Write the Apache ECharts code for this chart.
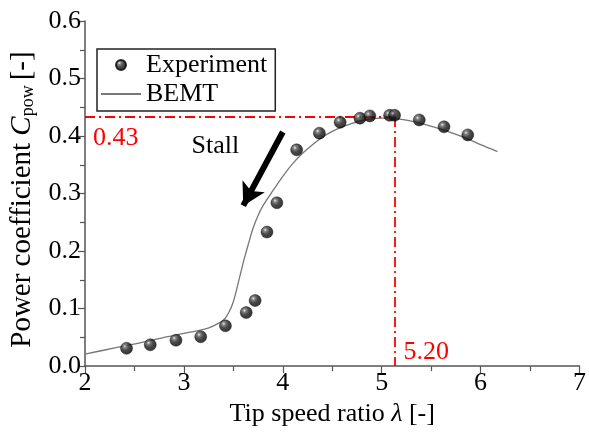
<!DOCTYPE html>
<html>
<head>
<meta charset="utf-8">
<script src="https://cdn.jsdelivr.net/npm/echarts@6/dist/echarts.min.js"></script>
<style>
  html, body { margin: 0; padding: 0; background: #fff; }
  #chart { width: 589px; height: 432px; }
</style>
</head>
<body>
<div id="chart"></div>
<script>
// measured points (tip speed ratio, Cpow)
var expX = [2.42, 2.66, 2.92, 3.17, 3.42, 3.63, 3.72, 3.84, 3.94, 4.14, 4.37, 4.58, 4.78, 4.88, 5.08, 5.13, 5.38, 5.63, 5.87];
var expY = [0.031, 0.037, 0.045, 0.051, 0.070, 0.093, 0.114, 0.233, 0.284, 0.376, 0.405, 0.424, 0.431, 0.435, 0.436, 0.436, 0.428, 0.416, 0.402];

// BEMT curve
var bemtX = [2.0, 2.2, 2.4, 2.6, 2.8, 3.0, 3.2, 3.3, 3.4, 3.45, 3.5, 3.55, 3.6, 3.65, 3.7, 3.75, 3.8, 3.9, 4.0, 4.1, 4.2, 4.3, 4.4, 4.5, 4.6, 4.7, 4.8, 4.9, 5.0, 5.1, 5.2, 5.3, 5.4, 5.5, 5.6, 5.7, 5.8, 5.9, 6.0, 6.1, 6.17];
var bemtY = [0.021, 0.028, 0.035, 0.042, 0.050, 0.057, 0.064, 0.070, 0.080, 0.092, 0.112, 0.145, 0.180, 0.211, 0.240, 0.262, 0.279, 0.305, 0.330, 0.352, 0.370, 0.385, 0.398, 0.408, 0.416, 0.422, 0.427, 0.430, 0.431, 0.431, 0.429, 0.426, 0.422, 0.417, 0.412, 0.406, 0.400, 0.393, 0.385, 0.378, 0.373];

// optimum marker
var optX = 5.13, optY = 0.433;
var optXLabel = '5.20', optYLabel = '0.43';

// stall arrow (from, to)
var arrowFrom = [4.0, 0.407], arrowTo = [3.6, 0.279];

function zip(a, b) { return a.map(function (v, i) { return [v, b[i]]; }); }

var font = 'Liberation Serif';
var axisCol = '#555';

var ball = {
  type: 'radial', x: 0.36, y: 0.33, r: 0.72,
  colorStops: [
    { offset: 0, color: '#eeeeee' },
    { offset: 0.18, color: '#666' },
    { offset: 0.5, color: '#1a1a1a' },
    { offset: 1, color: '#000' }
  ]
};

var chart = echarts.init(document.getElementById('chart'));

var option = {
  animation: false,
  backgroundColor: '#fff',
  grid: { left: 85, right: 5, top: 21, bottom: 63 },
  legend: {
    left: 97, top: 49,
    orient: 'vertical',
    padding: [3, 8, 4, 3],
    itemGap: 3,
    itemWidth: 40,
    itemHeight: 10,
    borderColor: '#222',
    borderWidth: 1.5,
    textStyle: { fontFamily: font, fontSize: 26, color: '#000' },
    data: [
      { name: 'Experiment', icon: 'circle' },
      { name: 'BEMT', itemStyle: { opacity: 0 } }
    ]
  },
  xAxis: {
    type: 'value', min: 2, max: 7, interval: 1,
    name: '{n|Tip speed ratio }{i|λ}{n| [-]}',
    nameLocation: 'middle', nameGap: 29,
    nameTextStyle: {
      rich: {
        n: { fontFamily: font, fontSize: 26, color: '#000' },
        i: { fontFamily: font, fontSize: 26, color: '#000', fontStyle: 'italic' }
      }
    },
    axisLine: { lineStyle: { color: axisCol, width: 1.5 } },
    axisTick: { inside: false, length: 7, lineStyle: { color: axisCol, width: 1.2 } },
    minorTick: { show: true, splitNumber: 2, length: 5, lineStyle: { color: axisCol, width: 1.2 } },
    splitLine: { show: false },
    axisLabel: { fontFamily: font, fontSize: 26, color: '#000', margin: 4 }
  },
  yAxis: {
    type: 'value', min: 0, max: 0.6, interval: 0.1,
    name: '{n|Power coefficient }{i|C}{s|pow}{n|[-]}',
    nameLocation: 'middle', nameGap: 40, nameRotate: 90,
    nameTextStyle: {
      padding: [0, 12, 0, 0],
      rich: {
        n: { fontFamily: font, fontSize: 29, color: '#000' },
        i: { fontFamily: font, fontSize: 29, color: '#000', fontStyle: 'italic' },
        s: { fontFamily: font, fontSize: 18, color: '#000', verticalAlign: 'bottom', padding: [12, 5, 0, 0] }
      }
    },
    axisLine: { show: true, lineStyle: { color: axisCol, width: 1.5 } },
    axisTick: { show: true, inside: false, length: 7, lineStyle: { color: axisCol, width: 1.2 } },
    minorTick: { show: true, splitNumber: 2, length: 5, lineStyle: { color: axisCol, width: 1.2 } },
    splitLine: { show: false },
    axisLabel: {
      fontFamily: font, fontSize: 26, color: '#000', margin: 4,
      formatter: function (v) { return v.toFixed(1); }
    }
  },
  series: [
    {
      name: 'BEMT',
      type: 'line',
      data: zip(bemtX, bemtY),
      smooth: 0.3,
      showSymbol: false,
      symbol: 'none',
      lineStyle: { color: '#777', width: 1.3 },
      itemStyle: { color: '#777' },
      z: 2,
      markLine: {
        silent: true,
        symbol: 'none',
        lineStyle: { color: '#ff0000', width: 1.8, type: [10, 4, 2, 4] },
        label: { show: false },
        data: [
          [{ coord: [2, optY] }, { coord: [optX, optY] }],
          [{ coord: [optX, optY] }, { coord: [optX, 0] }]
        ]
      }
    },
    {
      name: 'Experiment',
      type: 'scatter',
      data: zip(expX, expY),
      symbolSize: 12,
      itemStyle: { color: ball, borderColor: '#000', borderWidth: 0.5 },
      z: 5,
      markLine: {
        silent: true,
        symbol: ['none', 'arrow'],
        symbolSize: [19, 22],
        lineStyle: { color: '#000', width: 6, type: 'solid' },
        label: { show: false },
        data: [[{ coord: arrowFrom }, { coord: arrowTo }]]
      }
    }
  ],
  graphic: []
};

chart.setOption(option);

function placeLabels() {
  var pY = chart.convertToPixel({ xAxisIndex: 0, yAxisIndex: 0 }, [2, optY]);
  var pX = chart.convertToPixel({ xAxisIndex: 0, yAxisIndex: 0 }, [optX, 0]);
  var pS = chart.convertToPixel({ xAxisIndex: 0, yAxisIndex: 0 }, [3.3, 0.385]);
  chart.setOption({
    graphic: [
      { type: 'text', left: pY[0] + 8, top: pY[1] + 8,
        style: { text: optYLabel, fill: '#ff0000', font: '26px "Liberation Serif"' } },
      { type: 'text', left: pX[0] + 9, top: pX[1] - 27,
        style: { text: optXLabel, fill: '#ff0000', font: '26px "Liberation Serif"' } },
      { type: 'text', left: pS[0] - 22, top: pS[1] - 11,
        style: { text: 'Stall', fill: '#000', font: '26px "Liberation Serif"' } }
    ]
  });
}
placeLabels();
</script>
</body>
</html>
